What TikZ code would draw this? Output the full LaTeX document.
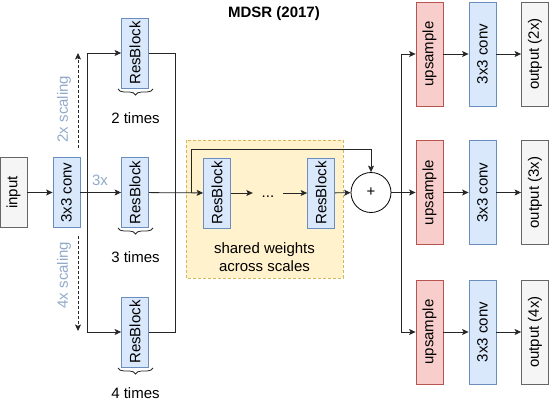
\documentclass[tikz,border=0pt]{standalone}
\usepackage{fontspec}
\setmainfont{Liberation Sans}
\usepackage{graphicx}
\usetikzlibrary{arrows.meta,decorations.pathreplacing}
\definecolor{blueFill}{HTML}{DAE8FC}
\definecolor{blueLine}{HTML}{6C8EBF}
\definecolor{redFill}{HTML}{F8CECC}
\definecolor{redLine}{HTML}{B85450}
\definecolor{greyFill}{HTML}{F5F5F5}
\definecolor{greyLine}{HTML}{666666}
\definecolor{yellowFill}{HTML}{FFF2CC}
\definecolor{yellowLine}{HTML}{D6B656}
\definecolor{scaleText}{HTML}{92AACA}
\def\vtext#1{\rotatebox{90}{#1}}
\tikzset{
	txt/.style={font=\fontsize{15}{18}\selectfont},
	blk/.style={txt, draw, line width=0.8pt, inner sep=0pt, minimum width=27pt},
	blueblk/.style={blk, fill=blueFill, draw=blueLine},
	redblk/.style={blk, fill=redFill, draw=redLine},
	greyblk/.style={blk, fill=greyFill, draw=greyLine},
	line/.style={line width=0.8pt, draw=black!85},
	arr/.style={line, -{Stealth[length=6.5pt,width=6pt,inset=1.5pt]}},
	dasharr/.style={arr, densely dashed},
	scl/.style={txt, text=scaleText},
	times/.style={line, decorate, decoration={brace, amplitude=6pt}},
}

\begin{document}
\begin{tikzpicture}[x=1pt, y=-1pt]
			%%%%% START %%%%%
			\useasboundingbox (0,0) rectangle (550,402);
			
			\node[txt, font=\fontsize{15}{18}\selectfont\bfseries] (title) at (274,14) {MDSR (2017)};
			
			\node[greyblk, minimum height=70pt] (input) at (13.5,192.5) {\vtext{input}};
			\node[blueblk, minimum height=70pt] (conv) at (66.5,192.5) {\vtext{3x3 conv}};
			
			\node[blueblk, minimum height=70pt] (rbA) at (135,53) {\vtext{ResBlock}};
			\node[blueblk, minimum height=70pt] (rbB) at (135,192.5) {\vtext{ResBlock}};
			\node[blueblk, minimum height=70pt] (rbC) at (135,332) {\vtext{ResBlock}};
			
			\draw[times] (153,89) -- (118,89);
			\draw[times] (153,228) -- (118,228);
			\draw[times] (153,368) -- (118,368);
			\node[txt] (t2) at (135.5,118) {2 times};
			\node[txt] (t3) at (135.5,257) {3 times};
			\node[txt] (t4) at (135.5,393) {4 times};
			
			\node[scl, rotate=90] (s2) at (64,109) {2x scaling};
			\node[scl, rotate=90] (s4) at (64,275) {4x scaling};
			\node[scl] (s3) at (100,180) {3x};
			
			\coordinate (d2a) at (78,148);
			\coordinate (d2b) at (78,53);
			\coordinate (d4a) at (78,236);
			\coordinate (d4b) at (78,331);
			\draw[dasharr] (d2a) -- (d2b);
			\draw[dasharr] (d4a) -- (d4b);
			
			\draw[arr] (input) -- (conv);
			\draw[arr] (conv) -- (rbB);
			\coordinate (sL) at (87,192.5);
			\draw[arr] (sL) |- (rbA);
			\draw[arr] (sL) |- (rbC);
			
			% shared part
			\draw[line width=0.8pt, draw=yellowLine, fill=yellowFill, densely dashed] (186,140) rectangle (343,278);
			\node[txt, align=center] (shr) at (264.5,257) {shared weights\\across scales};
			\node[blueblk, minimum height=70pt] (rs1) at (217,193) {\vtext{ResBlock}};
			\node[txt, inner sep=0pt, minimum width=30pt, text height=8pt] (dots) at (268,193) {...};
			\node[blueblk, minimum height=70pt] (rs2) at (321,193) {\vtext{ResBlock}};
			\node[txt, draw, line width=0.8pt, circle, minimum size=40pt, inner sep=0pt] (plus) at (371,192.5) {+};
			
			\coordinate (mR) at (175,193);
			\draw[line] (rbA) -| (mR);
			\draw[line] (rbC) -| (mR);
			\draw[arr] (rbB) -- (rs1);
			\draw[arr] (rs1) -- (dots);
			\draw[arr] (dots) -- (rs2);
			\draw[arr] (rs2) -- (plus);
			\coordinate (skip) at (191,193);
			\coordinate (skipTop) at (191,149);
			\draw[arr] (skip) -- (skipTop) -| (plus);
			
			% outputs
			\node[redblk, minimum height=104pt] (up1) at (429.5,54) {\vtext{upsample}};
			\node[redblk, minimum height=104pt] (up2) at (429.5,192.5) {\vtext{upsample}};
			\node[redblk, minimum height=104pt] (up3) at (429.5,332) {\vtext{upsample}};
			\node[blueblk, minimum height=104pt] (cv1) at (482.5,54) {\vtext{3x3 conv}};
			\node[blueblk, minimum height=104pt] (cv2) at (482.5,192.5) {\vtext{3x3 conv}};
			\node[blueblk, minimum height=104pt] (cv3) at (482.5,332) {\vtext{3x3 conv}};
			\node[greyblk, minimum height=104pt] (out1) at (535,54) {\vtext{output (2x)}};
			\node[greyblk, minimum height=104pt] (out2) at (535,192.5) {\vtext{output (3x)}};
			\node[greyblk, minimum height=104pt] (out3) at (535,332) {\vtext{output (4x)}};
			
			\coordinate (sR) at (401,192.5);
			\draw[line] (plus) -- (sR);
			\draw[arr] (sR) |- (up1);
			\draw[arr] (sR) -- (up2);
			\draw[arr] (sR) |- (up3);
			\draw[arr] (up1) -- (cv1);
			\draw[arr] (up2) -- (cv2);
			\draw[arr] (up3) -- (cv3);
			\draw[arr] (cv1) -- (out1);
			\draw[arr] (cv2) -- (out2);
			\draw[arr] (cv3) -- (out3);
			
			%%%%% END %%%%%
		\end{tikzpicture}
\end{document}
